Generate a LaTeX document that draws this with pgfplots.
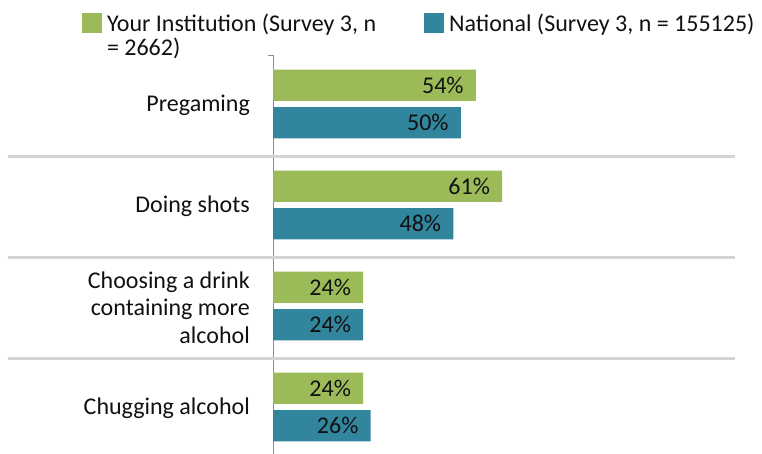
\documentclass[border=0pt]{standalone}
\usepackage{pgfplots}
\pgfplotsset{compat=1.18}
\usepackage{fontspec}
\setmainfont{Carlito}
\definecolor{cgreen}{HTML}{9BBB59}
\definecolor{cteal}{HTML}{31859C}
\definecolor{ctext}{HTML}{111111}
\definecolor{csep}{HTML}{D4D4D4}
\begin{document}
\begin{tikzpicture}
\path[use as bounding box] (0pt,0pt) rectangle (762pt,-454pt);
\begin{axis}[
  at={(273pt,-459pt)}, anchor=south west,
  scale only axis, width=462pt, height=404pt,
  xmin=0, xmax=123, ymin=-0.5, ymax=3.5, y dir=reverse,
  axis x line=none, axis y line*=left,
  y axis line style={draw=black!45, line width=0.8pt},
  xbar, bar width=0.31,
  ytick={0,1,2,3},
  yticklabels={Pregaming, Doing shots, {Choosing a drink\\containing more\\alcohol}, Chugging alcohol},
  yticklabel style={align=right, inner sep=0pt, xshift=-23pt, font=\fontsize{24}{27.5}\selectfont, text=ctext},
  major tick length=0pt,
  minor ytick={-0.5,0.5,1.5,2.5,3.5},
  minor tick length=5pt, tick align=outside,
  minor tick style={draw=black!45, line width=0.8pt},
  clip=false,
  point meta=x,
  /pgf/number format/assume math mode=true,
  nodes near coords={\pgfmathprintnumber{\pgfplotspointmeta}\%},
  every node near coord/.append style={anchor=east, xshift=-12pt, font=\fontsize{24}{28}\selectfont, text=ctext, inner sep=0pt},
  legend style={at={(axis description cs:-0.4134,1.104)}, anchor=north west, draw=none, fill=none, inner sep=0pt, outer sep=0pt,
    font=\fontsize{24}{23}\selectfont, text=ctext, column sep=5pt, nodes={inner sep=0pt},
    /tikz/every even column/.append style={column sep=48pt}},
  legend columns=2,
  legend cell align=left,
  legend image code/.code={\fill[#1,draw=none] (0pt,-10pt) rectangle (20pt,10pt);},
]
\draw[line width=3pt, csep] (axis cs:-70.6,0.5) -- (axis cs:123,0.5);
\draw[line width=3pt, csep] (axis cs:-70.6,1.5) -- (axis cs:123,1.5);
\draw[line width=3pt, csep] (axis cs:-70.6,2.5) -- (axis cs:123,2.5);
\addplot[fill=cgreen, draw=none, bar shift=-0.2] coordinates {(54,0) (61,1) (24,2) (24,3)};
\addplot[fill=cteal, draw=none, bar shift=0.17] coordinates {(50,0) (48,1) (24,2) (26,3)};
\legend{{\begin{tabular}[t]{@{}l@{}}Your Institution (Survey 3, n\\= 2662)\end{tabular}}, {National (Survey 3, n = 155125)}}
\end{axis}
\end{tikzpicture}
\end{document}
